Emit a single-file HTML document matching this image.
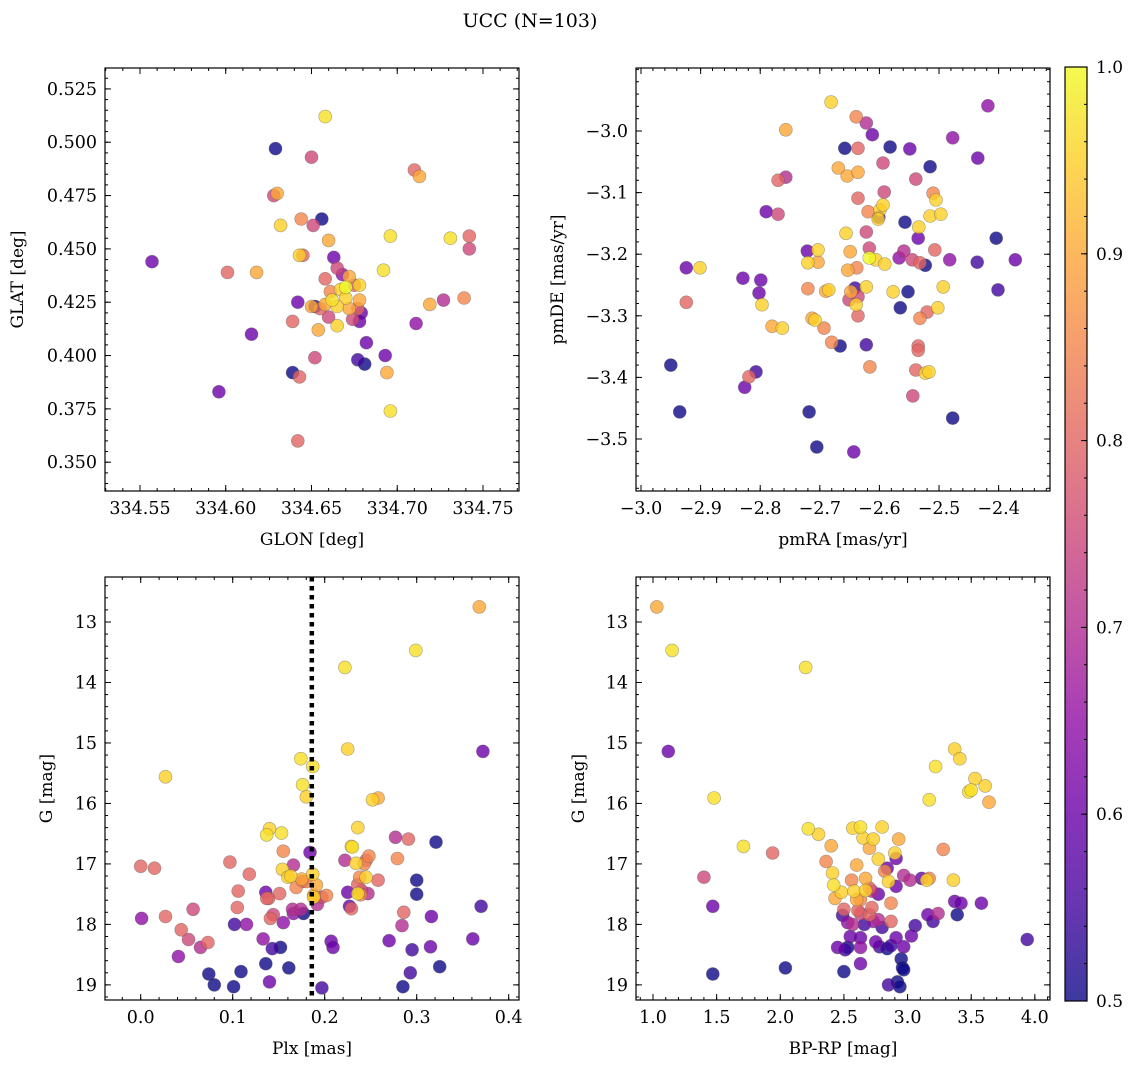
<!DOCTYPE html>
<html><head><meta charset="utf-8"><title>UCC (N=103)</title>
<style>
body{margin:0;background:#fff;}
svg{display:block;font-family:"DejaVu Serif","Liberation Serif",serif;}
</style></head>
<body>
<svg id="chart" width="1136" height="1067" viewBox="0 0 1136 1067" xmlns="http://www.w3.org/2000/svg">
<defs>
<linearGradient id="cbgrad" x1="0" y1="1" x2="0" y2="0">
<stop offset="0" stop-color="#0d0887"/><stop offset="0.1" stop-color="#41049d"/><stop offset="0.2" stop-color="#6a00a8"/><stop offset="0.3" stop-color="#8f0da4"/><stop offset="0.4" stop-color="#b12a90"/><stop offset="0.5" stop-color="#cc4778"/><stop offset="0.6" stop-color="#e16462"/><stop offset="0.7" stop-color="#f2844b"/><stop offset="0.8" stop-color="#fca636"/><stop offset="0.9" stop-color="#fcce25"/><stop offset="1" stop-color="#f0f921"/>
</linearGradient>
</defs>
<text x="530" y="27" font-size="19" text-anchor="middle">UCC (N=103)</text>
</svg>
<script>
// ---------- Panel 1: GLON / GLAT ----------
const p1Lon=[334.557,334.596,334.601,334.618,334.615,334.629,334.628,334.630,334.632,334.650,334.658,334.656,334.644,334.651,334.660,334.643,334.645,334.642,334.639,334.639,334.643,334.642,334.652,334.654,334.652,334.650,334.663,334.665,334.658,334.661,334.667,334.670,334.662,334.665,334.670,334.672,334.668,334.675,334.672,334.658,334.660,334.665,334.655,334.678,334.678,334.677,334.679,334.674,334.678,334.677,334.681,334.682,334.693,334.694,334.696,334.692,334.696,334.710,334.713,334.711,334.719,334.727,334.731,334.739,334.742,334.742];
const p1Lat=[0.444,0.383,0.439,0.439,0.410,0.497,0.475,0.476,0.461,0.493,0.512,0.464,0.464,0.461,0.454,0.447,0.447,0.425,0.416,0.392,0.390,0.360,0.399,0.412,0.423,0.423,0.446,0.441,0.436,0.430,0.431,0.427,0.426,0.423,0.432,0.437,0.438,0.433,0.422,0.424,0.418,0.414,0.422,0.426,0.433,0.422,0.420,0.417,0.416,0.398,0.396,0.406,0.400,0.392,0.374,0.440,0.456,0.487,0.484,0.415,0.424,0.426,0.455,0.427,0.456,0.450];
const p1Prob=[0.6,0.6,0.8,0.9,0.6,0.5,0.75,0.9,0.95,0.75,0.97,0.5,0.85,0.75,0.9,0.95,0.8,0.6,0.8,0.5,0.8,0.8,0.75,0.9,0.5,0.9,0.6,0.75,0.8,0.85,0.95,0.95,0.97,0.95,1.0,0.9,0.65,0.8,0.9,0.9,0.75,0.95,0.8,0.9,0.95,0.8,0.6,0.75,0.6,0.55,0.5,0.6,0.6,0.9,0.97,0.97,0.97,0.8,0.9,0.65,0.9,0.7,0.97,0.85,0.8,0.75];
// ---------- Panel 2: pmRA / pmDE ----------
const p2PmRA=[-2.950,-2.935,-2.924,-2.924,-2.901,-2.829,-2.826,-2.819,-2.802,-2.799,-2.797,-2.790,-2.770,-2.770,-2.763,-2.757,-2.807,-2.780,-2.757,-2.721,-2.720,-2.720,-2.718,-2.705,-2.703,-2.693,-2.690,-2.703,-2.713,-2.708,-2.681,-2.669,-2.658,-2.654,-2.653,-2.649,-2.651,-2.685,-2.680,-2.643,-2.638,-2.636,-2.636,-2.641,-2.622,-2.616,-2.622,-2.636,-2.617,-2.666,-2.656,-2.622,-2.639,-2.636,-2.619,-2.612,-2.622,-2.617,-2.606,-2.599,-2.591,-2.602,-2.592,-2.594,-2.582,-2.577,-2.601,-2.594,-2.636,-2.648,-2.639,-2.567,-2.557,-2.549,-2.565,-2.559,-2.552,-2.545,-2.539,-2.534,-2.535,-2.532,-2.535,-2.535,-2.539,-2.544,-2.532,-2.523,-2.517,-2.520,-2.523,-2.515,-2.510,-2.505,-2.515,-2.507,-2.502,-2.493,-2.477,-2.497,-2.482,-2.477,-2.418,-2.435,-2.436,-2.404,-2.401,-2.372];
const p2PmDE=[-3.380,-3.456,-3.222,-3.278,-3.222,-3.239,-3.416,-3.399,-3.263,-3.242,-3.282,-3.131,-3.135,-3.080,-3.320,-3.075,-3.391,-3.317,-2.998,-3.195,-3.214,-3.256,-3.456,-3.513,-3.193,-3.320,-3.260,-3.213,-3.304,-3.307,-2.953,-3.060,-3.028,-3.073,-3.226,-3.196,-3.274,-3.258,-3.343,-3.521,-3.222,-3.028,-3.300,-3.255,-3.347,-3.383,-3.164,-3.109,-3.190,-3.349,-3.166,-2.987,-2.977,-3.067,-3.131,-3.006,-3.253,-3.206,-3.209,-3.128,-3.216,-3.143,-3.099,-3.052,-3.026,-3.261,-3.140,-3.120,-3.269,-3.261,-3.282,-3.206,-3.148,-3.029,-3.287,-3.195,-3.261,-3.209,-3.078,-3.156,-3.174,-3.214,-3.349,-3.356,-3.388,-3.430,-3.304,-3.393,-3.391,-3.294,-3.218,-3.058,-3.101,-3.112,-3.138,-3.193,-3.287,-3.253,-3.011,-3.135,-3.209,-3.466,-2.959,-3.044,-3.213,-3.174,-3.258,-3.209];
const p2Prob=[0.5,0.5,0.6,0.8,0.95,0.6,0.6,0.8,0.6,0.6,0.95,0.6,0.75,0.8,0.95,0.7,0.55,0.9,0.9,0.6,0.95,0.85,0.5,0.5,0.95,0.85,0.9,0.9,0.9,0.95,0.95,0.9,0.5,0.9,0.9,0.9,0.75,0.95,0.85,0.6,0.85,0.8,0.8,0.55,0.55,0.85,0.75,0.8,0.75,0.5,0.95,0.7,0.85,0.9,0.85,0.6,0.95,1.0,0.95,0.95,0.95,0.95,0.75,0.75,0.5,0.95,0.55,0.95,0.75,0.9,0.95,0.65,0.5,0.6,0.5,0.7,0.5,0.75,0.75,0.95,0.6,0.8,0.8,0.8,0.8,0.75,0.85,0.95,0.95,0.8,0.5,0.5,0.85,0.95,0.95,0.8,0.95,0.95,0.65,0.95,0.65,0.5,0.65,0.6,0.55,0.5,0.55,0.6];
// ---------- Panel 3: Plx / G ----------
const p3Plx=[0.000,0.015,0.001,0.041,0.027,0.044,0.052,0.065,0.073,0.057,0.027,0.097,0.106,0.105,0.102,0.115,0.118,0.109,0.101,0.074,0.080,0.136,0.133,0.136,0.144,0.139,0.141,0.137,0.151,0.152,0.155,0.165,0.166,0.161,0.143,0.140,0.140,0.137,0.153,0.154,0.155,0.160,0.163,0.169,0.166,0.174,0.176,0.175,0.180,0.187,0.188,0.180,0.176,0.174,0.184,0.177,0.191,0.187,0.188,0.197,0.192,0.197,0.202,0.207,0.209,0.222,0.225,0.227,0.229,0.222,0.225,0.229,0.230,0.236,0.234,0.243,0.245,0.248,0.238,0.236,0.245,0.236,0.240,0.247,0.239,0.252,0.258,0.258,0.270,0.279,0.284,0.286,0.291,0.299,0.300,0.300,0.295,0.285,0.293,0.316,0.315,0.321,0.325,0.368,0.372,0.370,0.361,0.277];
const p3G=[17.04,17.07,17.90,18.53,17.87,18.09,18.25,18.38,18.30,17.75,15.56,16.97,17.45,17.72,18.00,18.00,17.17,18.78,19.03,18.82,19.00,17.47,18.24,18.65,17.84,17.57,17.90,17.57,17.49,18.38,17.97,17.75,17.82,18.72,18.40,18.95,16.42,16.52,16.49,17.09,16.79,17.22,17.20,17.39,17.02,15.26,15.69,17.25,15.89,15.39,17.52,17.29,17.29,17.75,16.81,17.82,17.35,17.17,17.55,19.05,17.67,17.55,17.52,18.28,18.38,16.94,17.47,17.70,17.74,13.75,15.10,16.71,16.72,16.40,16.99,17.00,16.94,16.87,17.22,17.34,17.22,17.49,17.44,17.49,17.51,15.94,15.91,17.27,18.27,16.91,18.02,17.80,16.59,13.47,17.27,17.50,18.42,19.03,18.80,17.87,18.37,16.64,18.70,12.75,15.14,17.70,18.24,16.56];
const p3Prob=[0.8,0.8,0.65,0.65,0.8,0.8,0.75,0.7,0.8,0.75,0.95,0.8,0.8,0.8,0.55,0.65,0.8,0.5,0.5,0.5,0.5,0.6,0.65,0.5,0.75,0.8,0.8,0.8,0.8,0.5,0.65,0.7,0.65,0.5,0.55,0.6,0.95,0.97,0.97,0.95,0.85,0.95,0.95,0.85,0.7,0.97,0.97,0.9,0.95,0.97,0.9,0.85,0.75,0.7,0.6,0.5,0.9,0.95,0.95,0.55,0.7,0.75,0.85,0.6,0.6,0.7,0.6,0.6,0.8,0.97,0.95,0.95,0.97,0.95,0.95,0.85,0.8,0.85,0.85,0.8,0.95,0.97,0.75,0.7,0.85,0.95,0.9,0.8,0.6,0.85,0.7,0.8,0.8,0.97,0.5,0.5,0.55,0.5,0.55,0.6,0.6,0.5,0.5,0.9,0.6,0.55,0.6,0.7];
const plxLine=[0.186];
// ---------- Panel 4: BP-RP / G ----------
const p4BpRp=[1.03,1.15,1.12,1.48,1.47,1.40,1.47,1.71,1.94,2.04,2.20,2.22,2.30,2.36,2.40,2.41,2.42,2.43,2.48,2.50,2.53,2.49,2.53,2.50,2.45,2.51,2.55,2.57,2.57,2.60,2.56,2.58,2.60,2.63,2.65,2.61,2.63,2.63,2.63,2.66,2.63,2.63,2.67,2.67,2.70,2.70,2.72,2.70,2.73,2.72,2.73,2.75,2.77,2.77,2.80,2.77,2.78,2.80,2.82,2.85,2.84,2.87,2.87,2.87,2.90,2.93,2.92,2.94,2.85,2.84,2.97,2.95,2.96,2.97,2.91,2.91,2.91,2.97,3.03,3.02,3.11,3.17,3.22,3.06,3.15,3.17,3.16,3.20,3.24,3.28,3.36,3.37,3.39,3.42,3.37,3.41,3.48,3.50,3.53,3.61,3.64,3.58,3.94];
const p4G=[12.75,13.47,15.14,15.91,18.82,17.22,17.70,16.71,16.82,18.72,13.75,16.42,16.51,16.96,16.70,17.15,17.35,17.57,17.47,17.75,17.97,17.85,18.38,18.78,18.38,18.42,18.20,18.00,16.41,17.02,17.27,17.45,17.59,16.39,16.57,17.77,17.82,18.38,18.22,18.00,18.65,17.59,17.24,17.44,17.84,17.40,17.45,16.74,16.59,17.72,17.95,18.29,16.92,17.50,16.39,17.92,18.37,18.05,17.12,17.29,18.40,17.65,17.95,18.35,16.82,16.59,18.95,19.03,19.00,17.07,18.37,18.57,18.72,18.75,18.22,17.37,16.91,17.19,18.19,17.27,17.24,15.94,15.39,18.02,17.27,17.24,17.84,17.95,17.82,16.76,17.27,17.62,17.84,17.65,15.10,15.26,15.81,15.78,15.59,15.71,15.98,17.65,18.25];
const p4Prob=[0.9,0.97,0.6,0.97,0.5,0.75,0.6,0.97,0.8,0.5,0.97,0.97,0.95,0.85,0.9,0.95,0.97,0.9,0.95,0.8,0.65,0.55,0.5,0.5,0.6,0.55,0.6,0.7,0.95,0.9,0.85,0.95,0.9,0.97,0.95,0.8,0.75,0.65,0.6,0.55,0.6,0.85,0.9,0.95,0.8,0.8,0.7,0.9,0.95,0.8,0.65,0.6,0.95,0.6,0.95,0.7,0.55,0.55,0.85,0.95,0.5,0.85,0.8,0.55,0.95,0.9,0.5,0.5,0.55,0.6,0.6,0.5,0.5,0.5,0.6,0.6,0.6,0.7,0.6,0.7,0.6,0.97,0.97,0.55,0.95,0.85,0.6,0.55,0.7,0.85,0.95,0.6,0.5,0.6,0.95,0.95,0.97,0.97,0.95,0.95,0.9,0.6,0.55];
// ---------- tick labels ----------
const p1XTicks=[334.55,334.60,334.65,334.70,334.75];
const p1YTicks=[0.350,0.375,0.400,0.425,0.450,0.475,0.500,0.525];
const p2XTicks=[-3.0,-2.9,-2.8,-2.7,-2.6,-2.5,-2.4];
const p2YTicks=[-3.5,-3.4,-3.3,-3.2,-3.1,-3.0];
const p3XTicks=[0.0,0.1,0.2,0.3,0.4];
const gTicks=[13,14,15,16,17,18,19];
const p4XTicks=[1.0,1.5,2.0,2.5,3.0,3.5,4.0];
const cbTicks=[0.5,0.6,0.7,0.8,0.9,1.0];

const NS="http://www.w3.org/2000/svg";
const svg=document.getElementById('chart');
function mk(tag,attrs,parent){const e=document.createElementNS(NS,tag);for(const k in attrs)e.setAttribute(k,attrs[k]);(parent||svg).appendChild(e);return e;}

const plasma=[[13,8,135],[65,4,157],[106,0,168],[143,13,164],[177,42,144],[204,71,120],[225,100,98],[242,132,75],[252,166,54],[252,206,37],[240,249,33]];
function cmap(p){let t=(p-0.5)/0.5;t=Math.max(0,Math.min(1,t));const f=t*10,i=Math.min(9,Math.floor(f)),r=f-i;const a=plasma[i],b=plasma[i+1];return 'rgb('+a.map((v,k)=>Math.round(v+(b[k]-v)*r)).join(',')+')';}

function lin(d0,d1,r0,r1){return v=>r0+(v-d0)*(r1-r0)/(d1-d0);}

function panel(cfg){
  const g=mk('g',{});
  
  
  const sx=lin(cfg.xd[0],cfg.xd[1],cfg.L,cfg.R), sy=lin(cfg.yd[0],cfg.yd[1],cfg.T,cfg.B);
  const clip=mk('clipPath',{id:cfg.name+'-clip'},g);mk('rect',{x:cfg.L,y:cfg.T,width:cfg.R-cfg.L,height:cfg.B-cfg.T},clip);
  const pts=mk('g',{'clip-path':'url(#'+cfg.name+'-clip)'},g);
  
  
  const order=cfg.p.map((v,i)=>i).sort((a,b)=>cfg.p[a]-cfg.p[b]);
  order.forEach(i=>{
    const c=mk('circle',{cx:sx(cfg.x[i]).toFixed(1),cy:sy(cfg.y[i]).toFixed(1),r:6.5,fill:cmap(cfg.p[i]),'fill-opacity':0.8,stroke:'#555','stroke-opacity':0.5,'stroke-width':0.6},pts);
    
    
  });
  if(cfg.vline){cfg.vline.forEach(v=>{const l=mk('line',{x1:sx(v),x2:sx(v),y1:cfg.T,y2:cfg.B,stroke:'#000','stroke-width':4.5,'stroke-dasharray':'4.5 4.5'},g);
    
    });}
  const fr=mk('rect',{x:cfg.L,y:cfg.T,width:cfg.R-cfg.L,height:cfg.B-cfg.T,fill:'none',stroke:'#000','stroke-width':1.2},g);
  
  
  const tk=mk('g',{stroke:'#000','stroke-width':1},g);
  const xlo=Math.min(...cfg.xd),xhi=Math.max(...cfg.xd),ylo=Math.min(...cfg.yd),yhi=Math.max(...cfg.yd);
  for(let v=Math.ceil(xlo/cfg.xm-1e-6)*cfg.xm;v<=xhi;v+=cfg.xm){const X=sx(v);mk('line',{x1:X,x2:X,y1:cfg.B,y2:cfg.B-3},tk);mk('line',{x1:X,x2:X,y1:cfg.T,y2:cfg.T+3},tk);}
  for(let v=Math.ceil(ylo/cfg.ym-1e-6)*cfg.ym;v<=yhi;v+=cfg.ym){const Y=sy(v);mk('line',{x1:cfg.L,x2:cfg.L+3,y1:Y,y2:Y},tk);mk('line',{x1:cfg.R,x2:cfg.R-3,y1:Y,y2:Y},tk);}
  cfg.xt.forEach(v=>{const X=sx(v);mk('line',{x1:X,x2:X,y1:cfg.B,y2:cfg.B-6},tk);mk('line',{x1:X,x2:X,y1:cfg.T,y2:cfg.T+6},tk);
    const t=mk('text',{x:X,y:cfg.B+23,'font-size':17.5,'text-anchor':'middle'},g);t.textContent=(v<0?'\u2212':'')+Math.abs(v).toFixed(cfg.xf);
    
    });
  cfg.yt.forEach(v=>{const Y=sy(v);mk('line',{x1:cfg.L,x2:cfg.L+6,y1:Y,y2:Y},tk);mk('line',{x1:cfg.R,x2:cfg.R-6,y1:Y,y2:Y},tk);
    const t=mk('text',{x:cfg.L-8,y:Y+6,'font-size':17.5,'text-anchor':'end'},g);t.textContent=(v<0?'\u2212':'')+Math.abs(v).toFixed(cfg.yf);
    
    });
  const xl=mk('text',{x:(cfg.L+cfg.R)/2,y:cfg.B+54,'font-size':17,'text-anchor':'middle'},g);xl.textContent=cfg.xlabel;
  
  
  const yx=cfg.ylx,yy=(cfg.T+cfg.B)/2;
  const yl=mk('text',{x:yx,y:yy,'font-size':17,'text-anchor':'middle',transform:'rotate(-90 '+yx+' '+yy+')'},g);yl.textContent=cfg.ylabel;
  
  
}

panel({name:'glon-glat-panel',L:105,R:519,T:68,B:491,xd:[334.5296,334.771],yd:[0.5348,0.3365],x:p1Lon,y:p1Lat,p:p1Prob,xt:p1XTicks,yt:p1YTicks,xm:0.01,ym:0.005,xf:2,yf:3,xlabel:'GLON [deg]',ylabel:'GLAT [deg]',ylx:23});
panel({name:'pm-panel',L:636,R:1050,T:68,B:491,xd:[-3.0084,-2.3138],yd:[-2.8977,-3.5844],x:p2PmRA,y:p2PmDE,p:p2Prob,xt:p2XTicks,yt:p2YTicks,xm:0.02,ym:0.02,xf:1,yf:1,xlabel:'pmRA [mas/yr]',ylabel:'pmDE [mas/yr]',ylx:563});
panel({name:'plx-g-panel',L:105,R:519,T:577,B:1000,xd:[-0.0388,0.4112],yd:[12.256,19.25],x:p3Plx,y:p3G,p:p3Prob,xt:p3XTicks,yt:gTicks,xm:0.02,ym:0.2,xf:1,yf:0,xlabel:'Plx [mas]',ylabel:'G [mag]',ylx:52,vline:plxLine});
panel({name:'cmd-panel',L:636,R:1050,T:577,B:1000,xd:[0.8665,4.119],yd:[12.256,19.25],x:p4BpRp,y:p4G,p:p4Prob,xt:p4XTicks,yt:gTicks,xm:0.1,ym:0.2,xf:1,yf:0,xlabel:'BP-RP [mag]',ylabel:'G [mag]',ylx:584});

// colorbar
const cb=mk('g',{});


const cbL=1065,cbR=1087,cbT=67,cbB=1001;
mk('rect',{x:cbL,y:cbT,width:cbR-cbL,height:cbB-cbT,fill:'url(#cbgrad)','fill-opacity':0.8},cb);
mk('rect',{x:cbL,y:cbT,width:cbR-cbL,height:cbB-cbT,fill:'none',stroke:'#000','stroke-width':1.2},cb);
const cy=lin(0.5,1.0,cbB,cbT);
for(let v=0.5;v<=1.0001;v+=0.02){mk('line',{x1:cbR,x2:cbR-3,y1:cy(v),y2:cy(v),stroke:'#000'},cb);}
cbTicks.forEach(v=>{mk('line',{x1:cbR,x2:cbR-6,y1:cy(v),y2:cy(v),stroke:'#000'},cb);
  const t=mk('text',{x:1096,y:cy(v)+6,'font-size':17},cb);t.textContent=v.toFixed(1);
  
  });
</script>
</body></html>
